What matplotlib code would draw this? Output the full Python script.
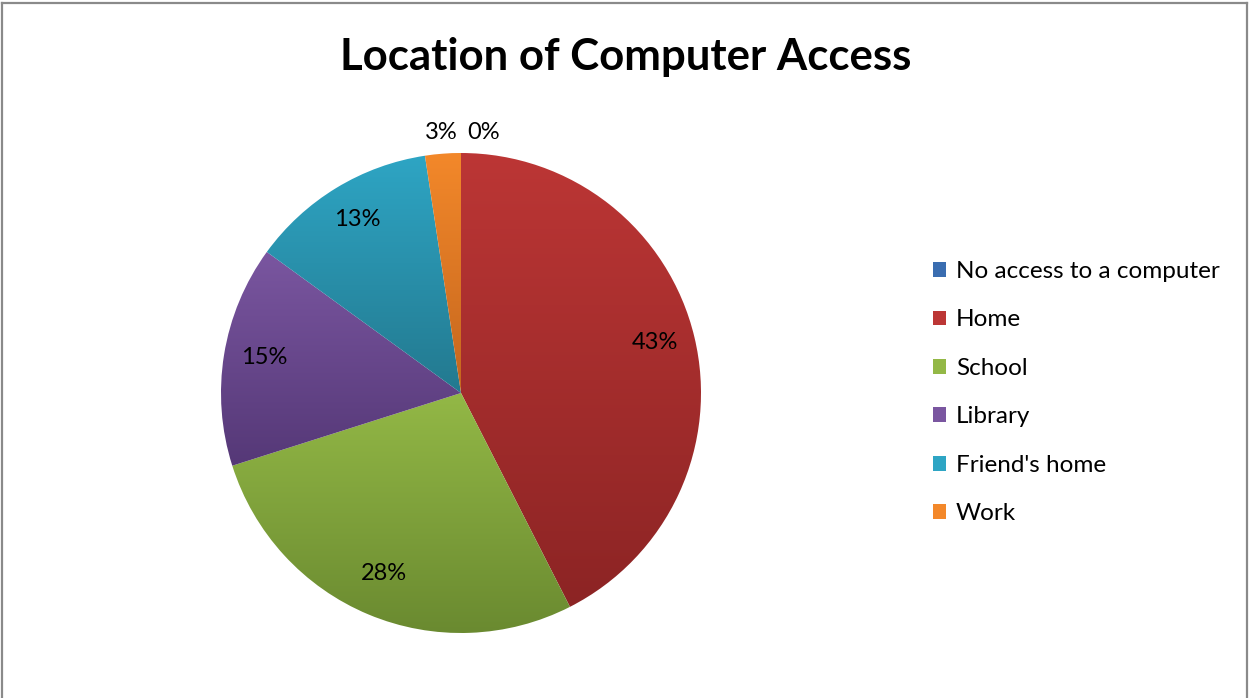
import matplotlib
matplotlib.use("Agg")
import matplotlib.pyplot as plt
import numpy as np
from matplotlib.colors import LinearSegmentedColormap
from matplotlib.patches import Patch
from matplotlib.lines import Line2D

plt.rcParams['font.family'] = ['Lato', 'DejaVu Sans']

title = "Location of Computer Access"
categories = ["No access to a computer", "Home", "School", "Library", "Friend's home", "Work"]
values = [0.0, 42.5, 27.6, 14.9, 12.6, 2.4]
pct_labels = ["0%", "43%", "28%", "15%", "13%", "3%"]
top_colors = ["#3A6DB0", "#BC3635", "#93B846", "#7A56A0", "#2EA5C4", "#F3882A"]
bottom_colors = ["#2A5288", "#8C2424", "#6A8A30", "#553877", "#23798F", "#C4661E"]

W, H = 1249, 698
fig = plt.figure(figsize=(W / 100, H / 100), dpi=100)

# border
fig.add_artist(Line2D([2 / W, 2 / W], [0, 1 - 3 / H], color="#8a8a8a", lw=1.6, transform=fig.transFigure))
fig.add_artist(Line2D([2 / W, 1247 / W], [1 - 3 / H, 1 - 3 / H], color="#8a8a8a", lw=1.6, transform=fig.transFigure))
fig.add_artist(Line2D([1247 / W, 1247 / W], [0, 1 - 3 / H], color="#8a8a8a", lw=1.6, transform=fig.transFigure))

cx, cy, R = 461, 393, 240
ax = fig.add_axes([(cx - R) / W, (H - cy - R) / H, 2 * R / W, 2 * R / H])
wedges, _ = ax.pie(values, startangle=90, counterclock=False, radius=1,
                   colors=top_colors, wedgeprops=dict(linewidth=0))
ax.set_xlim(-1, 1)
ax.set_ylim(-1, 1)
ax.axis("off")

for w, v, c1, c2 in zip(wedges, values, top_colors, bottom_colors):
    if v <= 0:
        w.set_visible(False)
        continue
    ext = w.get_path().get_extents()
    cmap = LinearSegmentedColormap.from_list("g", [c2, c1])
    grad = np.linspace(0, 1, 256).reshape(-1, 1)
    im = ax.imshow(grad, cmap=cmap, origin="lower", aspect="auto",
                   extent=[ext.x0, ext.x1, ext.y0, ext.y1], zorder=1)
    im.set_clip_path(w)
    w.set_facecolor("none")
ax.set_xlim(-1, 1)
ax.set_ylim(-1, 1)

lab_fs = 17
for w, v, lab in zip(wedges, values, pct_labels):
    mid = np.deg2rad((w.theta1 + w.theta2) / 2)
    if v >= 5:
        r = 0.83
        ax.text(r * np.cos(mid), r * np.sin(mid) + 0.015, lab, ha="center", va="center",
                fontsize=lab_fs, color="black", zorder=5)
    else:
        r = 1.085
        if v == 0:
            ax.text(0.025, r, lab, ha="left", va="center", fontsize=lab_fs, zorder=5, clip_on=False)
        else:
            ax.text(-0.015, r, lab, ha="right", va="center", fontsize=lab_fs, zorder=5, clip_on=False)

fig.text(626 / W, 1 - 57 / H, title, ha="center", va="center", fontsize=31.5, fontweight="bold")

handles = [Patch(facecolor=c) for c in top_colors]
fig.legend(handles, categories, loc="upper left", bbox_to_anchor=(933 / W, 1 - 261 / H),
           frameon=False, fontsize=17.5, handlelength=0.55, handleheight=0.55,
           handletextpad=0.4, labelspacing=1.13, borderaxespad=0, borderpad=0)

fig.savefig("out.png", dpi=100)
